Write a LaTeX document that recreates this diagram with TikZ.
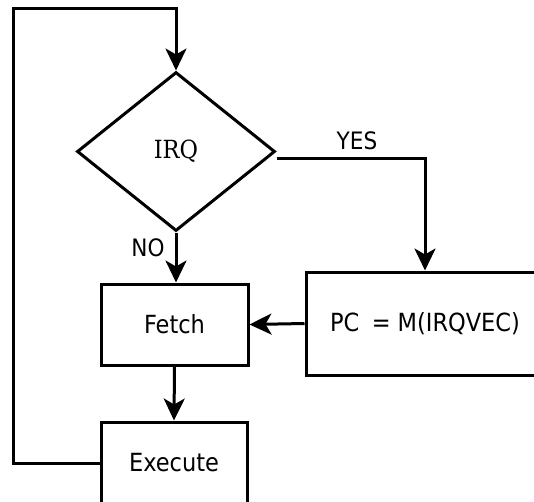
\documentclass[tikz,border=0pt]{standalone}
\usepackage{fontspec}
\setmainfont{DejaVu Sans Condensed}
\newfontfamily\condserif{DejaVu Serif Condensed}
\usetikzlibrary{shapes.geometric,arrows.meta}

\tikzset{
  flow/.style={line width=3pt, line join=miter},
  arr/.style={flow, -{Stealth[length=22pt,width=21pt,inset=6pt]}},
  procbox/.style={draw, line width=3pt, rectangle, inner sep=0pt,
                  font=\fontsize{25}{30}\selectfont},
  decision/.style={draw, line width=3pt, diamond, inner sep=0pt,
                   minimum width=198pt, minimum height=159pt,
                   font=\condserif\fontsize{25}{30}\selectfont},
  tag/.style={font=\fontsize{24}{28}\selectfont, inner sep=0pt}
}

\begin{document}
\begin{tikzpicture}[x=1pt, y=-1pt]
  \useasboundingbox (0,0) rectangle (534,501);
  \fill[white] (0,0) rectangle (534,501);
  \clip (0,0) rectangle (534,501);

  % blocks
  \node[decision] (irq) at (176,151.5) {IRQ};
  \node[procbox, minimum width=147pt, minimum height=81pt] (fetch) at (174.5,324.5) {Fetch};
  \node[procbox, minimum width=146pt, minimum height=82pt] (exec) at (174,463) {Execute};
  \node[procbox, minimum width=238pt, minimum height=103pt] (pc) at (425,323.5) {PC\enspace= M(IRQVEC)};

  % loop back from Execute to the decision
  \coordinate (corner) at (13,8);
  \draw[arr] (exec.west) -| (corner) -- (corner -| irq.north) -- (irq.north);

  % decision outputs
  \draw[arr] (irq.south) -- (irq.south |- fetch.north);
  \draw[arr] ([yshift=-7pt]irq.east) -| (pc.north);
  \draw[arr] (pc.west) -- (fetch.east);
  \draw[arr] (fetch.south) -- (exec.north);

  % branch labels
  \node[tag] (yes) at (357,141) {YES};
  \node[tag] (no) at (148,248) {NO};
\end{tikzpicture}
\end{document}
